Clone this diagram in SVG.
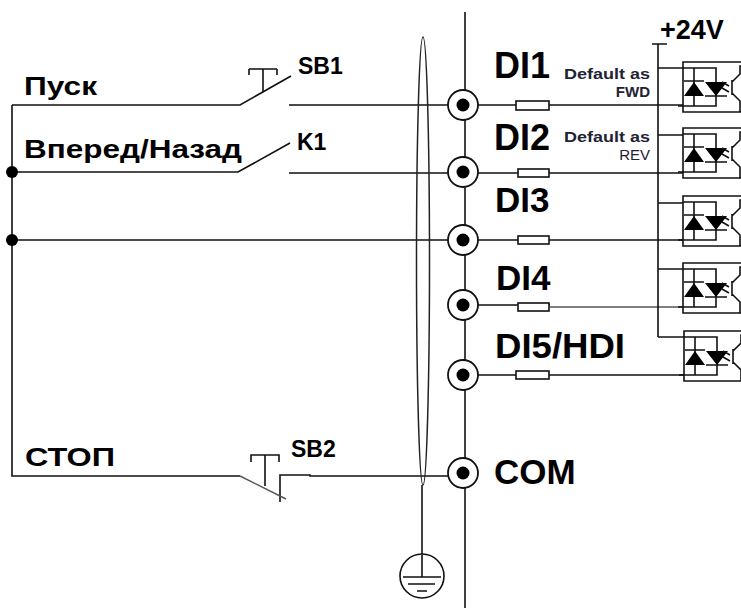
<svg xmlns="http://www.w3.org/2000/svg" xmlns:xlink="http://www.w3.org/1999/xlink" width="741" height="610" viewBox="0 0 741 610">
<style>
text{font-family:"Liberation Sans",Arial,sans-serif;font-weight:bold;fill:#000}
.l{fill:none;stroke:#111;stroke-width:1.6}
.g{fill:none;stroke:#555;stroke-width:1.4}
.t1{font-size:36px}
.t2{font-size:35px}
.t3{font-size:26px}
.s{font-size:23px}
.d{font-size:15px;text-anchor:end;fill:#223}
.r{fill:#fff;stroke:#111;stroke-width:1.6}
.f{fill:#000;stroke:none}
</style>
<defs>
<g id="opto">
<path class="l" d="M741 0H25V50H741M25 6H58V44H20M36 6V44"/>
<path class="f" d="M36 20L46 34H26ZM58 34L47 20H69Z"/>
<path class="l" d="M26 19H46M47 34H69"/>
<path class="l" d="M64 20L71 24M64 26L71 30M74 18V33M74 20L82 12V4H90M74 31L82 39V50"/>
</g>
<g id="term">
<circle r="15" fill="#fff" stroke="#111" stroke-width="1.8"/>
<circle r="6.5" fill="#000"/>
</g>
</defs>
<g id="connectors">
<path class="l" d="M465 12V608"/>
<path class="l" d="M12 105V476H240M12 105H240L291 76M289 105H683M12 172H238L290 143M289 173H683M12 240H683M464 305H550M464 375H684"/>
<path class="g" d="M550 307H683"/>
<path class="l" d="M280 502V475H310V476H448"/>
<path class="g" d="M240 476L286 499"/>
<path class="l" d="M652 44H667M658 44V337M658 68H683M658 135H683M658 203H683M658 269H683M658 337H684"/>
<path class="l" d="M422 485V555"/>
</g>
<g id="shield"><ellipse cx="423" cy="261" rx="6.500" ry="224" fill="none" stroke="#222" stroke-width="1.500"/></g>
<g id="ground">
<circle cx="422" cy="576" r="22" fill="#fff" stroke="#111" stroke-width="1.600"/>
<path class="l" d="M422 555V577M403 577H441M408 584H435M417 591H427"/>
</g>
<g id="sb1"><path class="l" d="M249 69H277M249 69V75M277 69V75M263 69V92"/><text class="s" x="298" y="74">SB1</text></g>
<g id="k1"><text class="s" x="297" y="150">K1</text></g>
<g id="sb2"><path class="l" d="M251 462V455H279V462M265 455V486"/><text class="s" x="291" y="457">SB2</text></g>
<g id="lab-pusk"><text class="t3" x="24" y="95" textLength="73" lengthAdjust="spacingAndGlyphs">Пуск</text></g>
<g id="lab-fwdrev"><text class="t3" x="24" y="158" textLength="218" lengthAdjust="spacingAndGlyphs">Вперед/Назад</text></g>
<g id="lab-stop"><text class="t3" x="25" y="466" textLength="90" lengthAdjust="spacingAndGlyphs">СТОП</text></g>
<g id="di1"><use xlink:href="#term" x="463" y="105"/><rect class="r" x="516" y="101" width="33" height="9"/><text class="t1" x="494" y="78">DI1</text><text class="d" x="650" y="79" textLength="86" lengthAdjust="spacingAndGlyphs">Default as</text><text class="d" x="650" y="97">FWD</text><use xlink:href="#opto" x="658" y="62"/></g>
<g id="di2"><use xlink:href="#term" x="463" y="172"/><rect class="r" x="518" y="169" width="31" height="8"/><text class="t1" x="494" y="150">DI2</text><text class="d" x="650" y="142" textLength="86" lengthAdjust="spacingAndGlyphs">Default as</text><text class="d" x="650" y="160" style="font-weight:normal">REV</text><use xlink:href="#opto" x="658" y="128"/></g>
<g id="di3"><use xlink:href="#term" x="463" y="240"/><rect class="r" x="518" y="236" width="31" height="8"/><text class="t2" x="495" y="212">DI3</text><use xlink:href="#opto" x="658" y="196"/></g>
<g id="di4"><use xlink:href="#term" x="463" y="305"/><rect class="r" x="518" y="303" width="31" height="8"/><text class="t2" x="496" y="290">DI4</text><use xlink:href="#opto" x="658" y="263"/></g>
<g id="di5"><use xlink:href="#term" x="463" y="375"/><rect class="r" x="516" y="371" width="33" height="8"/><text class="t2" x="495" y="358" textLength="130" lengthAdjust="spacingAndGlyphs">DI5/HDI</text><use xlink:href="#opto" x="659" y="331"/></g>
<g id="com"><use xlink:href="#term" x="463" y="473"/><text class="t2" x="494" y="484">COM</text></g>
<g id="v24"><text x="660" y="39" style="font-size:27px">+24V</text></g>
<g id="dots"><circle cx="12" cy="172" r="6" fill="#000"/><circle cx="12" cy="240" r="6" fill="#000"/></g>
</svg>
